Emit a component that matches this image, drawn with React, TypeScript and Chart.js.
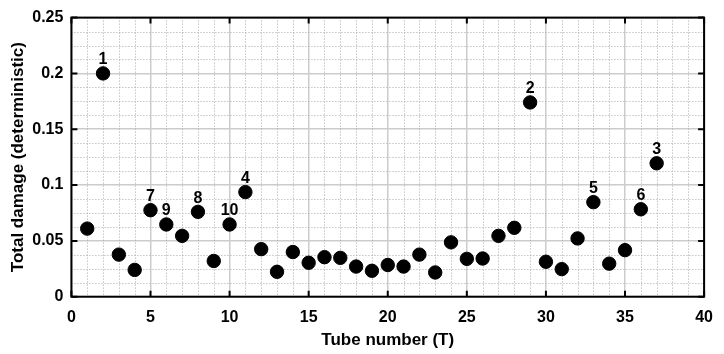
import React, { useEffect, useRef } from "react";
import { Chart, registerables } from "chart.js";

Chart.register(...registerables);

const tubeNumbers = [
  1, 2, 3, 4, 5, 6, 7, 8, 9, 10, 11, 12, 13, 14, 15, 16, 17, 18, 19, 20, 21, 22, 23, 24, 25, 26,
  27, 28, 29, 30, 31, 32, 33, 34, 35, 36, 37,
];
const totalDamage = [
  0.061, 0.2, 0.0377, 0.024, 0.0775, 0.0647, 0.0545, 0.076, 0.032, 0.0647, 0.0937, 0.0426,
  0.0223, 0.04, 0.0304, 0.0354, 0.0348, 0.027, 0.0232, 0.0284, 0.027, 0.0377, 0.0217, 0.0487,
  0.0339, 0.0342, 0.0545, 0.0617, 0.174, 0.0313, 0.0247, 0.0522, 0.0847, 0.0296, 0.0417,
  0.0783, 0.1195,
];
const labelledTubes = [2, 29, 37, 11, 33, 36, 5, 8, 6, 10];
const labelTexts = ["1", "2", "3", "4", "5", "6", "7", "8", "9", "10"];

const xTickValues = [0, 5, 10, 15, 20, 25, 30, 35, 40];
const xTickLabels = ["0", "5", "10", "15", "20", "25", "30", "35", "40"];
const yTickValues = [0, 0.05, 0.1, 0.15, 0.2, 0.25];
const yTickLabels = ["0", "0.05", "0.1", "0.15", "0.2", "0.25"];
const xMinorStep = 1;
const yMinorStep = 0.0125;

const FONT = "'Liberation Sans', Arial, sans-serif";

const framePlugin = {
  id: "framePlugin",
  beforeDatasetsDraw(chart: any) {
    const { ctx, chartArea, scales } = chart;
    const { left, right, top, bottom } = chartArea;
    ctx.save();
    ctx.strokeStyle = "#a8a8a8";
    ctx.lineWidth = 1;
    ctx.setLineDash([1, 2]);
    for (let v = 0; v <= 40 + 1e-9; v += xMinorStep) {
      if (Math.abs(v / 5 - Math.round(v / 5)) < 1e-6) continue;
      const px = Math.round(scales.x.getPixelForValue(v)) + 0.5;
      ctx.beginPath();
      ctx.moveTo(px, top);
      ctx.lineTo(px, bottom);
      ctx.stroke();
    }
    for (let i = 1; i < 20; i++) {
      if (i % 4 === 0) continue;
      const v = i * yMinorStep;
      const py = Math.round(scales.y.getPixelForValue(v)) + 0.5;
      ctx.beginPath();
      ctx.moveTo(left, py);
      ctx.lineTo(right, py);
      ctx.stroke();
    }
    ctx.restore();
  },
  afterDatasetsDraw(chart: any) {
    const { ctx, chartArea, scales } = chart;
    const { left, right, top, bottom } = chartArea;
    ctx.save();
    ctx.strokeStyle = "#000";
    ctx.lineWidth = 2;
    ctx.setLineDash([]);
    ctx.strokeRect(left, top, right - left, bottom - top);
    const tl = 6;
    ctx.beginPath();
    xTickValues.forEach((v) => {
      const px = scales.x.getPixelForValue(v);
      ctx.moveTo(px, bottom);
      ctx.lineTo(px, bottom - tl);
      ctx.moveTo(px, top);
      ctx.lineTo(px, top + tl);
    });
    yTickValues.forEach((v) => {
      const py = scales.y.getPixelForValue(v);
      ctx.moveTo(left, py);
      ctx.lineTo(left + tl, py);
      ctx.moveTo(right, py);
      ctx.lineTo(right - tl, py);
    });
    ctx.stroke();

    ctx.fillStyle = "#000";
    ctx.font = `bold 16px ${FONT}`;
    ctx.textAlign = "center";
    ctx.textBaseline = "alphabetic";
    labelledTubes.forEach((t, i) => {
      const idx = tubeNumbers.indexOf(t);
      const px = scales.x.getPixelForValue(t);
      const py = scales.y.getPixelForValue(totalDamage[idx]);
      ctx.fillText(labelTexts[i], px, py - 9);
    });
    ctx.restore();
  },
};

export default function App() {
  const canvasRef = useRef<HTMLCanvasElement | null>(null);

  useEffect(() => {
    document.body.style.margin = "0";
    const canvas = canvasRef.current;
    if (!canvas) return;
    const chart = new Chart(canvas, {
      type: "scatter",
      data: {
        datasets: [
          {
            data: tubeNumbers.map((t, i) => ({ x: t, y: totalDamage[i] })),
            backgroundColor: "#000",
            borderColor: "#000",
            pointRadius: 6.7,
            pointHoverRadius: 6.7,
          },
        ],
      },
      options: {
        responsive: false,
        animation: false,
        events: [],
        layout: { padding: { top: 9, right: 9, left: 0, bottom: 0 } },
        plugins: {
          legend: { display: false },
          tooltip: { enabled: false },
        },
        scales: {
          x: {
            type: "linear",
            min: 0,
            max: 40,
            afterBuildTicks: (scale: any) => {
              scale.ticks = xTickValues.map((v) => ({ value: v }));
            },
            afterFit: (scale: any) => {
              scale.height = 57.3;
            },
            ticks: {
              color: "#000",
              font: { family: FONT, size: 16, weight: "bold" },
              padding: 11,
              maxRotation: 0,
              callback: (v: any) => {
                const i = xTickValues.indexOf(Number(v));
                return i >= 0 ? xTickLabels[i] : "";
              },
            },
            grid: { color: "#cccccc", lineWidth: 1.5, drawTicks: false },
            border: { display: false },
            title: {
              display: true,
              text: "Tube number (T)",
              color: "#000",
              font: { family: FONT, size: 17, weight: "bold" },
              padding: { top: 4, bottom: 3 },
            },
          },
          y: {
            type: "linear",
            min: 0,
            max: 0.25,
            afterBuildTicks: (scale: any) => {
              scale.ticks = yTickValues.map((v) => ({ value: v }));
            },
            afterFit: (scale: any) => {
              scale.width = 71.4;
            },
            ticks: {
              color: "#000",
              font: { family: FONT, size: 16, weight: "bold" },
              padding: 8,
              callback: (v: any) => {
                const i = yTickValues.findIndex((t) => Math.abs(t - Number(v)) < 1e-9);
                return i >= 0 ? yTickLabels[i] : "";
              },
            },
            grid: { color: "#cccccc", lineWidth: 1.5, drawTicks: false },
            border: { display: false },
            title: {
              display: true,
              text: "Total damage (deterministic)",
              color: "#000",
              font: { family: FONT, size: 17, weight: "bold" },
              padding: { top: 8, bottom: 0 },
            },
          },
        },
      },
      plugins: [framePlugin],
    } as any);
    return () => chart.destroy();
  }, []);

  return (
    <div style={{ position: "absolute", left: 0, top: 0, width: 724, height: 354 }}>
      <canvas ref={canvasRef} width={724} height={354} />
    </div>
  );
}
